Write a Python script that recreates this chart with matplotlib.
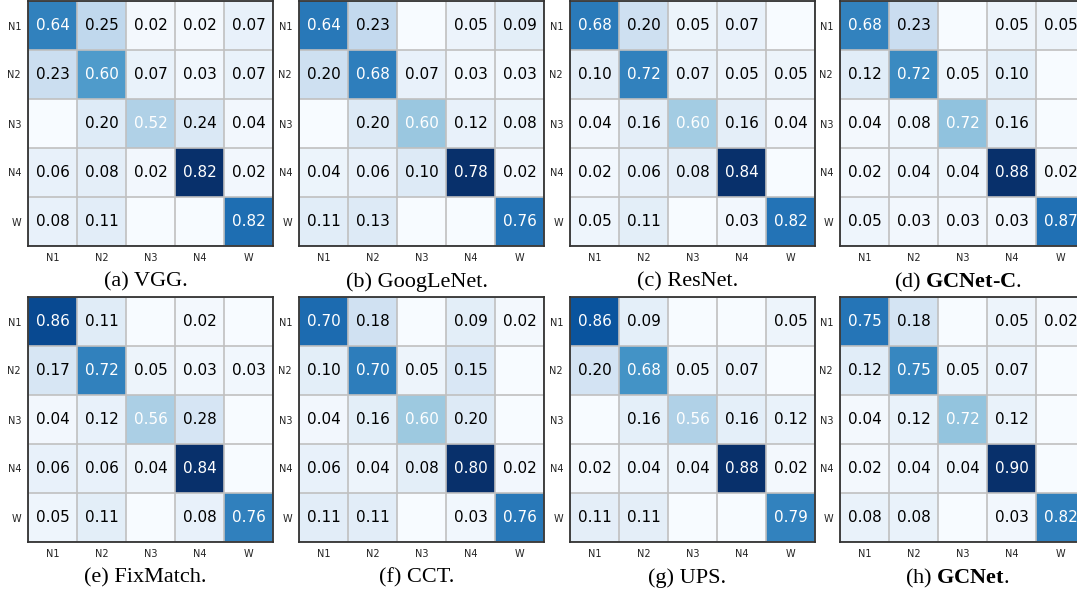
import numpy as np
import matplotlib.pyplot as plt

plt.rcParams["mathtext.fontset"] = "custom"
plt.rcParams["mathtext.rm"] = "Liberation Serif"
plt.rcParams["mathtext.bf"] = "Liberation Serif:bold"

classes = ["N1", "N2", "N3", "N4", "W"]
# samples per true class (used for cell shading)
support = [44, 40, 25, 50, 38]

vgg = [[0.64, 0.25, 0.02, 0.02, 0.07],
       [0.23, 0.60, 0.07, 0.03, 0.07],
       [0.00, 0.20, 0.52, 0.24, 0.04],
       [0.06, 0.08, 0.02, 0.82, 0.02],
       [0.08, 0.11, 0.00, 0.00, 0.82]]
googlenet = [[0.64, 0.23, 0.00, 0.05, 0.09],
             [0.20, 0.68, 0.07, 0.03, 0.03],
             [0.00, 0.20, 0.60, 0.12, 0.08],
             [0.04, 0.06, 0.10, 0.78, 0.02],
             [0.11, 0.13, 0.00, 0.00, 0.76]]
resnet = [[0.68, 0.20, 0.05, 0.07, 0.00],
          [0.10, 0.72, 0.07, 0.05, 0.05],
          [0.04, 0.16, 0.60, 0.16, 0.04],
          [0.02, 0.06, 0.08, 0.84, 0.00],
          [0.05, 0.11, 0.00, 0.03, 0.82]]
gcnet_c = [[0.68, 0.23, 0.00, 0.05, 0.05],
           [0.12, 0.72, 0.05, 0.10, 0.00],
           [0.04, 0.08, 0.72, 0.16, 0.00],
           [0.02, 0.04, 0.04, 0.88, 0.02],
           [0.05, 0.03, 0.03, 0.03, 0.87]]
fixmatch = [[0.86, 0.11, 0.00, 0.02, 0.00],
            [0.17, 0.72, 0.05, 0.03, 0.03],
            [0.04, 0.12, 0.56, 0.28, 0.00],
            [0.06, 0.06, 0.04, 0.84, 0.00],
            [0.05, 0.11, 0.00, 0.08, 0.76]]
cct = [[0.70, 0.18, 0.00, 0.09, 0.02],
       [0.10, 0.70, 0.05, 0.15, 0.00],
       [0.04, 0.16, 0.60, 0.20, 0.00],
       [0.06, 0.04, 0.08, 0.80, 0.02],
       [0.11, 0.11, 0.00, 0.03, 0.76]]
ups = [[0.86, 0.09, 0.00, 0.00, 0.05],
       [0.20, 0.68, 0.05, 0.07, 0.00],
       [0.00, 0.16, 0.56, 0.16, 0.12],
       [0.02, 0.04, 0.04, 0.88, 0.02],
       [0.11, 0.11, 0.00, 0.00, 0.79]]
gcnet = [[0.75, 0.18, 0.00, 0.05, 0.02],
         [0.12, 0.75, 0.05, 0.07, 0.00],
         [0.04, 0.12, 0.72, 0.12, 0.00],
         [0.02, 0.04, 0.04, 0.90, 0.00],
         [0.08, 0.08, 0.00, 0.03, 0.82]]

matrices = [vgg, googlenet, resnet, gcnet_c, fixmatch, cct, ups, gcnet]
captions = ["(a) VGG.", "(b) GoogLeNet.", "(c) ResNet.", r"(d) $\mathbf{GCNet}$-$\mathbf{C}$.",
            "(e) FixMatch.", "(f) CCT.", "(g) UPS.", r"(h) $\mathbf{GCNet}$."]

W, H = 1077, 592
fig = plt.figure(figsize=(W / 100, H / 100), dpi=100)

lefts = [28, 299, 570, 840]
tops = [1, 297]
size = 245
cap_y = [282, 578]

for k, m in enumerate(matrices):
    r, c = divmod(k, 4)
    ax = fig.add_axes([lefts[c] / W, 1 - (tops[r] + size) / H, size / W, size / H])
    m = np.array(m)
    counts = m * np.array(support)[:, None]
    ax.imshow(counts, cmap="Blues", vmin=0, vmax=counts.max(), aspect="auto")
    for i in range(5):
        for j in range(5):
            if m[i, j] > 0:
                ax.text(j, i, "%.2f" % m[i, j], ha="center", va="center", fontsize=11,
                        color="white" if i == j else "black")
    ax.set_xticks(range(5))
    ax.set_yticks(range(5))
    ax.set_xticklabels(classes, fontsize=7)
    ax.set_yticklabels(classes, fontsize=7)
    ax.set_xticks(np.arange(-0.5, 5, 1), minor=True)
    ax.set_yticks(np.arange(-0.5, 5, 1), minor=True)
    ax.grid(which="minor", color="#c0c0c0", linewidth=1.2)
    ax.tick_params(which="both", length=0, pad=5, colors="#222222")
    for s in ax.spines.values():
        s.set_color("#333333")
        s.set_linewidth(1.3)
    fig.text((lefts[c] + size / 2 - 5) / W, 1 - cap_y[r] / H, captions[k],
             ha="center", va="center", fontsize=16, family="Liberation Serif")

fig.savefig("out.png", dpi=100)
